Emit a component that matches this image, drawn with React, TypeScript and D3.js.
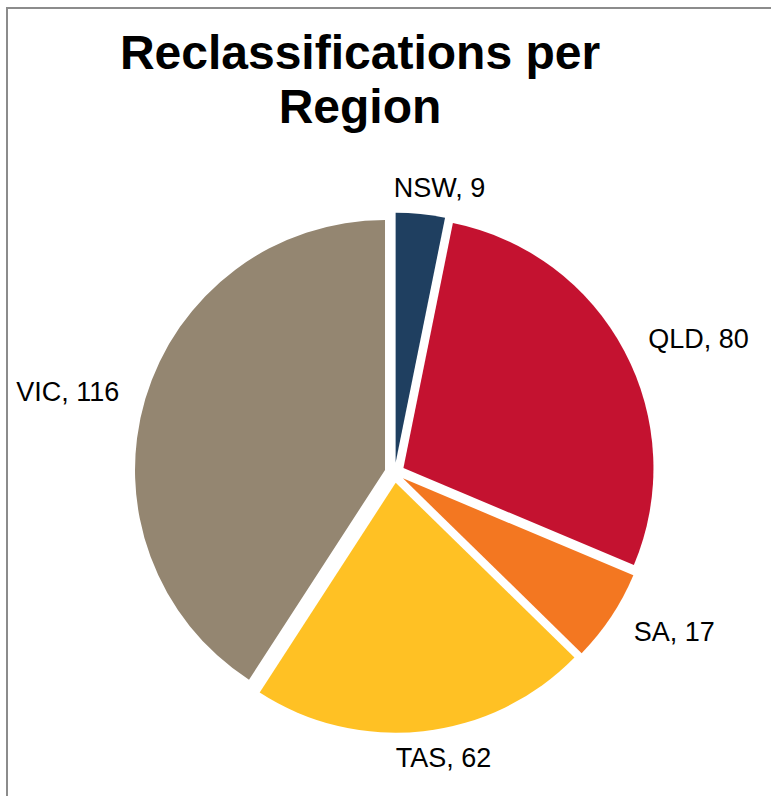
import React, { useEffect, useRef } from "react";
import * as d3 from "d3";

const regions = ["NSW", "QLD", "SA", "TAS", "VIC"];
const counts = [9, 80, 17, 62, 116];
const colors = ["#1f3f60", "#c41230", "#f37721", "#ffc124", "#948671"];
const titleLines = ["Reclassifications per", "Region"];

type Slice = { region: string; count: number; color: string };
const data: Slice[] = regions.map((r, i) => ({ region: r, count: counts[i], color: colors[i] }));

const App = () => {
  const ref = useRef<SVGSVGElement | null>(null);
  const width = 771,
    height = 796;
  const cx = 394.6,
    cy = 472.8,
    radius = 250,
    explode = 10,
    labelR = 287;

  useEffect(() => {
    const svg = d3.select(ref.current);
    svg.selectAll("*").remove();

    svg
      .append("rect")
      .attr("width", width)
      .attr("height", height)
      .attr("fill", "#fff");

    // outer frame, runs off the right and bottom edges
    svg
      .append("rect")
      .attr("x", 7)
      .attr("y", 8)
      .attr("width", width + 20)
      .attr("height", height + 20)
      .attr("fill", "none")
      .attr("stroke", "#8c8c8c")
      .attr("stroke-width", 2);

    svg
      .append("g")
      .selectAll("text")
      .data(titleLines)
      .enter()
      .append("text")
      .attr("x", 360)
      .attr("y", (d, i) => 69 + i * 54)
      .attr("text-anchor", "middle")
      .style("font-family", "'Liberation Sans', Arial, sans-serif")
      .style("font-weight", "bold")
      .style("font-size", "48px")
      .style("fill", "#000")
      .text((d) => d);

    const pie = d3
      .pie<Slice>()
      .sort(null)
      .value((d) => d.count);
    const arcs = pie(data);
    const arc = d3.arc<d3.PieArcDatum<Slice>>().innerRadius(0).outerRadius(radius);
    const mid = (a: d3.PieArcDatum<Slice>) => (a.startAngle + a.endAngle) / 2;

    const g = svg.append("g").attr("transform", `translate(${cx}, ${cy})`);

    g.selectAll("path.slice")
      .data(arcs)
      .enter()
      .append("path")
      .attr("class", "slice")
      .attr("transform", (d) => {
        const m = mid(d);
        return `translate(${explode * Math.sin(m)}, ${-explode * Math.cos(m)})`;
      })
      .attr("d", (d) => arc(d))
      .style("fill", (d) => d.data.color);

    const labels = g
      .selectAll("text.label")
      .data(arcs)
      .enter()
      .append("text")
      .attr("class", "label")
      .attr("y", (d) => -labelR * Math.cos(mid(d)))
      .attr("dy", "0.35em")
      .style("font-family", "'Liberation Sans', Arial, sans-serif")
      .style("font-size", "27px")
      .style("fill", "#000")
      .text((d) => `${d.data.region}, ${d.data.count}`);

    labels.each(function (d) {
      const el = this as SVGTextElement;
      const w = el.getComputedTextLength();
      const s = Math.sin(mid(d));
      const f = s > 0.5 ? 0 : s < -0.5 ? 1 : 0.32;
      d3.select(el).attr("x", labelR * s - f * w);
    });
  }, []);

  return (
    <div style={{ position: "absolute", left: 0, top: 0 }}>
      <svg ref={ref} width={width} height={height} style={{ display: "block" }}></svg>
    </div>
  );
};

export default App;
